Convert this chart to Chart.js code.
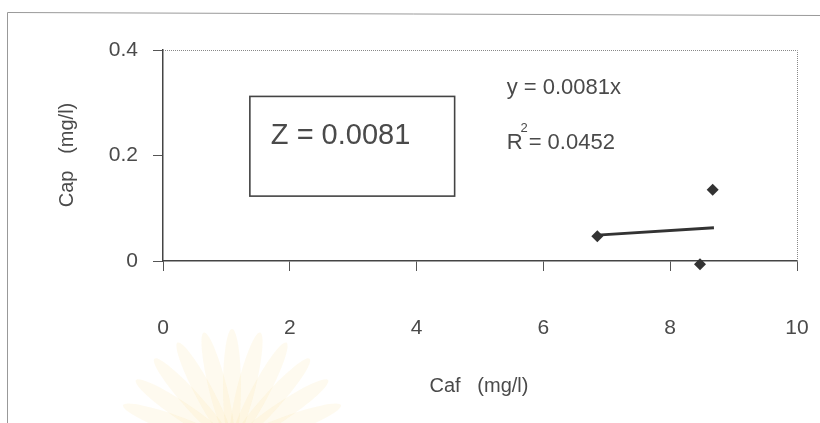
<!DOCTYPE html>
<html>
<head>
<meta charset="utf-8">
<script src="https://cdn.jsdelivr.net/npm/chart.js@4/dist/chart.umd.min.js"></script>
<style>
  html, body { margin: 0; padding: 0; background: #fff; }
  #wrap { width: 820px; height: 423px; }
</style>
</head>
<body>
<div id="wrap"><canvas id="myChart"></canvas></div>
<script>
// values
const capX = [6.85, 8.67, 8.47];
const capY = [0.047, 0.135, -0.006];
const trendX = [6.85, 8.69];
const trendY = [0.049, 0.063];
const xTicks = [0, 2, 4, 6, 8, 10];
const yTicks = [0, 0.2, 0.4];
const eqText = "y = 0.0081x";
const r2Text = "0.0452";
const zText = "Z = 0.0081";

const ink = "#333";
const txt = "#4a4a4a";
const font = "'Liberation Sans', Arial, sans-serif";

const points = capX.map((x, i) => ({ x: x, y: capY[i] }));
const trend = trendX.map((x, i) => ({ x: x, y: trendY[i] }));

const decor = {
  id: "decor",
  beforeDraw(chart) {
    const ctx = chart.ctx;
    ctx.save();
    // faint watermark fan at the bottom
    ctx.fillStyle = "rgba(250, 220, 140, 0.14)";
    for (let a = -70; a <= 70; a += 14) {
      ctx.save();
      ctx.translate(232, 445);
      ctx.rotate(a * Math.PI / 180);
      ctx.beginPath();
      ctx.ellipse(0, -58, 9, 58, 0, 0, Math.PI * 2);
      ctx.fill();
      ctx.restore();
    }
    // outer frame
    ctx.strokeStyle = "#999";
    ctx.lineWidth = 1;
    ctx.beginPath();
    ctx.moveTo(7.5, 423);
    ctx.lineTo(7.5, 12.5);
    ctx.lineTo(820, 15.5);
    ctx.stroke();
    ctx.restore();
  },
  afterDraw(chart) {
    const ctx = chart.ctx;
    const a = chart.chartArea;
    const xs = chart.scales.x, ys = chart.scales.y;
    ctx.save();
    // dotted top / right border of the plot area
    ctx.strokeStyle = "#888";
    ctx.lineWidth = 1;
    ctx.setLineDash([1, 1]);
    ctx.beginPath();
    ctx.moveTo(a.left, a.top + 0.5);
    ctx.lineTo(a.right + 0.5, a.top + 0.5);
    ctx.lineTo(a.right + 0.5, a.bottom);
    ctx.stroke();
    ctx.setLineDash([]);

    // Z box
    const bx = xs.getPixelForValue(1.37), bx2 = xs.getPixelForValue(4.6);
    const by = ys.getPixelForValue(0.312), by2 = ys.getPixelForValue(0.123);
    ctx.strokeStyle = "#444";
    ctx.lineWidth = 1.6;
    ctx.strokeRect(bx, by, bx2 - bx, by2 - by);
    ctx.fillStyle = txt;
    ctx.font = "29px " + font;
    ctx.textBaseline = "middle";
    ctx.fillText(zText, bx + 21, ys.getPixelForValue(0.237));

    // trendline equation
    const ex = xs.getPixelForValue(5.42);
    ctx.font = "22px " + font;
    ctx.fillText(eqText, ex, ys.getPixelForValue(0.328));
    const ry = ys.getPixelForValue(0.224);
    ctx.fillText("R", ex, ry);
    const rw = ctx.measureText("R").width;
    ctx.font = "13px " + font;
    ctx.fillText("2", ex + rw - 2, ry - 14);
    ctx.font = "22px " + font;
    ctx.fillText(" = " + r2Text, ex + rw, ry);

    // axis titles
    ctx.font = "20px " + font;
    ctx.textAlign = "center";
    ctx.fillText("Caf   (mg/l)", (a.left + a.right) / 2 - 1, 386);
    ctx.translate(67, 155);
    ctx.rotate(-Math.PI / 2);
    ctx.fillText("Cap   (mg/l)", 0, 0);
    ctx.restore();
  }
};

new Chart("myChart", {
  type: "scatter",
  data: {
    datasets: [
      {
        label: "Cap",
        data: points,
        pointStyle: "rectRot",
        pointRadius: 6,
        backgroundColor: ink,
        borderColor: ink,
        borderWidth: 0,
        clip: false,
      },
      {
        label: "trend",
        type: "line",
        data: trend,
        showLine: true,
        borderColor: ink,
        borderWidth: 2.8,
        pointRadius: 0,
        fill: false,
      },
    ],
  },
  options: {
    responsive: true,
    maintainAspectRatio: false,
    animation: false,
    layout: { padding: { left: 103, right: 23, top: 50, bottom: 62 } },
    plugins: { legend: { display: false }, tooltip: { enabled: false } },
    scales: {
      x: {
        type: "linear",
        min: 0,
        max: 10,
        afterBuildTicks: (s) => { s.ticks = xTicks.map((v) => ({ value: v })); },
        afterFit: (s) => { s.height = 100; s.paddingLeft = 0; s.paddingRight = 0; },
        grid: { drawOnChartArea: false, drawTicks: true, tickLength: 10, color: "#555", lineWidth: 1 },
        border: { display: true, color: "#444", width: 1.5 },
        ticks: { padding: 45, color: txt, font: { size: 21, family: font } },
      },
      y: {
        type: "linear",
        min: 0,
        max: 0.4,
        afterBuildTicks: (s) => { s.ticks = yTicks.map((v) => ({ value: v })); },
        afterFit: (s) => { s.width = 60; },
        grid: { drawOnChartArea: false, drawTicks: true, tickLength: 10, color: "#555", lineWidth: 1 },
        border: { display: true, color: "#444", width: 1.5 },
        ticks: { padding: 15, color: txt, font: { size: 21, family: font } },
      },
    },
  },
  plugins: [decor],
});
</script>
</body>
</html>
